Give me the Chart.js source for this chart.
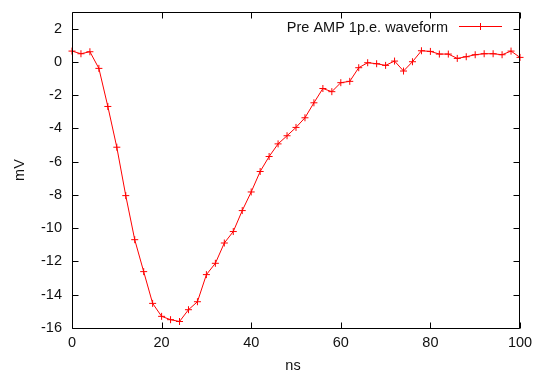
<!DOCTYPE html>
<html>
<head>
<meta charset="utf-8">
<script src="https://cdn.jsdelivr.net/npm/chart.js@4/dist/chart.umd.min.js"></script>
<style>
  html, body { margin: 0; padding: 0; background: #fff; }
  #wrap { width: 534px; height: 372px; }
</style>
</head>
<body>
<div id="wrap"><canvas id="c" width="534" height="372"></canvas></div>
<script>
// ---- data ----
const timesNs = [0,2,4,6,8,10,12,14,16,18,20,22,24,26,28,30,32,34,36,38,40,42,44,46,48,50,52,54,56,58,60,62,64,66,68,70,72,74,76,78,80,82,84,86,88,90,92,94,96,98,100];
const voltageMv = [0.65,0.49,0.61,-0.39,-2.68,-5.13,-8.04,-10.69,-12.61,-14.52,-15.30,-15.50,-15.61,-14.90,-14.42,-12.79,-12.11,-10.89,-10.20,-8.94,-7.82,-6.59,-5.69,-4.93,-4.44,-3.94,-3.36,-2.46,-1.60,-1.79,-1.25,-1.17,-0.35,-0.05,-0.11,-0.21,0.05,-0.55,0.01,0.67,0.63,0.47,0.47,0.21,0.31,0.43,0.49,0.49,0.43,0.65,0.27];
const xTicks = [0,20,40,60,80,100];
const yTicks = [2,0,-2,-4,-6,-8,-10,-12,-14,-16];
const xRange = [0, 100];
const yRange = [-16, 3];
const seriesLabel = "Pre AMP 1p.e. waveform";
const xTitle = "ns";
const yTitle = "mV";

const FONT = "Liberation Sans, Arial, sans-serif";
const FS = 14.5;
const TXT = "#111";
const RED = "#ff0000";

const points = timesNs.map((t, i) => ({ x: t, y: voltageMv[i] }));

const framePlugin = {
  id: 'gnuframe',
  afterDraw(chart) {
    const ctx = chart.ctx;
    const a = chart.chartArea;
    const xs = chart.scales.x, ys = chart.scales.y;
    const L = Math.round(a.left) + 0.5, R = Math.round(a.right) - 0.5;
    const T = Math.round(a.top) + 0.5, B = Math.round(a.bottom) + 0.5;
    const tl = 6;
    ctx.save();
    ctx.strokeStyle = "#000";
    ctx.lineWidth = 1;
    ctx.beginPath();
    ctx.moveTo(L, T); ctx.lineTo(R, T); ctx.lineTo(R, B); ctx.lineTo(L, B); ctx.closePath();
    ctx.stroke();
    ctx.beginPath();
    xTicks.forEach(v => {
      const px = Math.round(xs.getPixelForValue(v)) + 0.5;
      ctx.moveTo(px, B); ctx.lineTo(px, B - tl);
      ctx.moveTo(px, T); ctx.lineTo(px, T + tl);
    });
    yTicks.forEach(v => {
      const py = Math.round(ys.getPixelForValue(v)) + 0.5;
      ctx.moveTo(L, py); ctx.lineTo(L + tl, py);
      ctx.moveTo(R, py); ctx.lineTo(R - tl, py);
    });
    ctx.stroke();

    // axis titles
    ctx.fillStyle = TXT;
    ctx.font = FS + "px " + FONT;
    ctx.textAlign = "center";
    ctx.textBaseline = "middle";
    ctx.fillText(xTitle, (a.left + a.right) / 2 - 3, 366);
    ctx.save();
    ctx.translate(20, 170);
    ctx.rotate(-Math.PI / 2);
    ctx.fillText(yTitle, 0, 0);
    ctx.restore();

    // legend
    const ly = 26.5;
    ctx.textAlign = "right";
    ctx.fillText(seriesLabel, 448, ly + 1);
    ctx.strokeStyle = RED;
    ctx.beginPath();
    ctx.moveTo(459, ly); ctx.lineTo(502, ly);
    ctx.moveTo(480.5, ly - 3.5); ctx.lineTo(480.5, ly + 3.5);
    ctx.moveTo(477, ly); ctx.lineTo(484, ly);
    ctx.stroke();
    ctx.restore();
  }
};

new Chart(document.getElementById('c'), {
  type: 'scatter',
  data: {
    datasets: [{
      label: seriesLabel,
      data: points,
      showLine: true,
      borderColor: RED,
      backgroundColor: RED,
      borderWidth: 1,
      pointStyle: 'cross',
      pointRadius: 3.5,
      pointBorderWidth: 1,
      pointBorderColor: RED,
      tension: 0,
      clip: false
    }]
  },
  options: {
    responsive: false,
    animation: false,
    events: [],
    layout: { padding: { left: 0, right: 14, top: 12, bottom: 0 } },
    plugins: { legend: { display: false }, tooltip: { enabled: false }, title: { display: false } },
    scales: {
      x: {
        type: 'linear',
        min: xRange[0], max: xRange[1],
        afterFit: s => { s.height = 44; s.paddingLeft = 0; s.paddingRight = 0; },
        afterBuildTicks: s => { s.ticks = xTicks.map(v => ({ value: v })); },
        grid: { display: false, drawTicks: false },
        border: { display: false },
        ticks: { padding: 6, color: TXT, font: { family: FONT, size: FS }, maxRotation: 0 }
      },
      y: {
        type: 'linear',
        min: yRange[0], max: yRange[1],
        afterFit: s => { s.width = 72; s.paddingTop = 0; s.paddingBottom = 0; },
        afterBuildTicks: s => { s.ticks = yTicks.slice().reverse().map(v => ({ value: v })); },
        grid: { display: false, drawTicks: false },
        border: { display: false },
        ticks: { padding: 10, color: TXT, font: { family: FONT, size: FS } }
      }
    }
  },
  plugins: [framePlugin]
});
</script>
</body>
</html>
